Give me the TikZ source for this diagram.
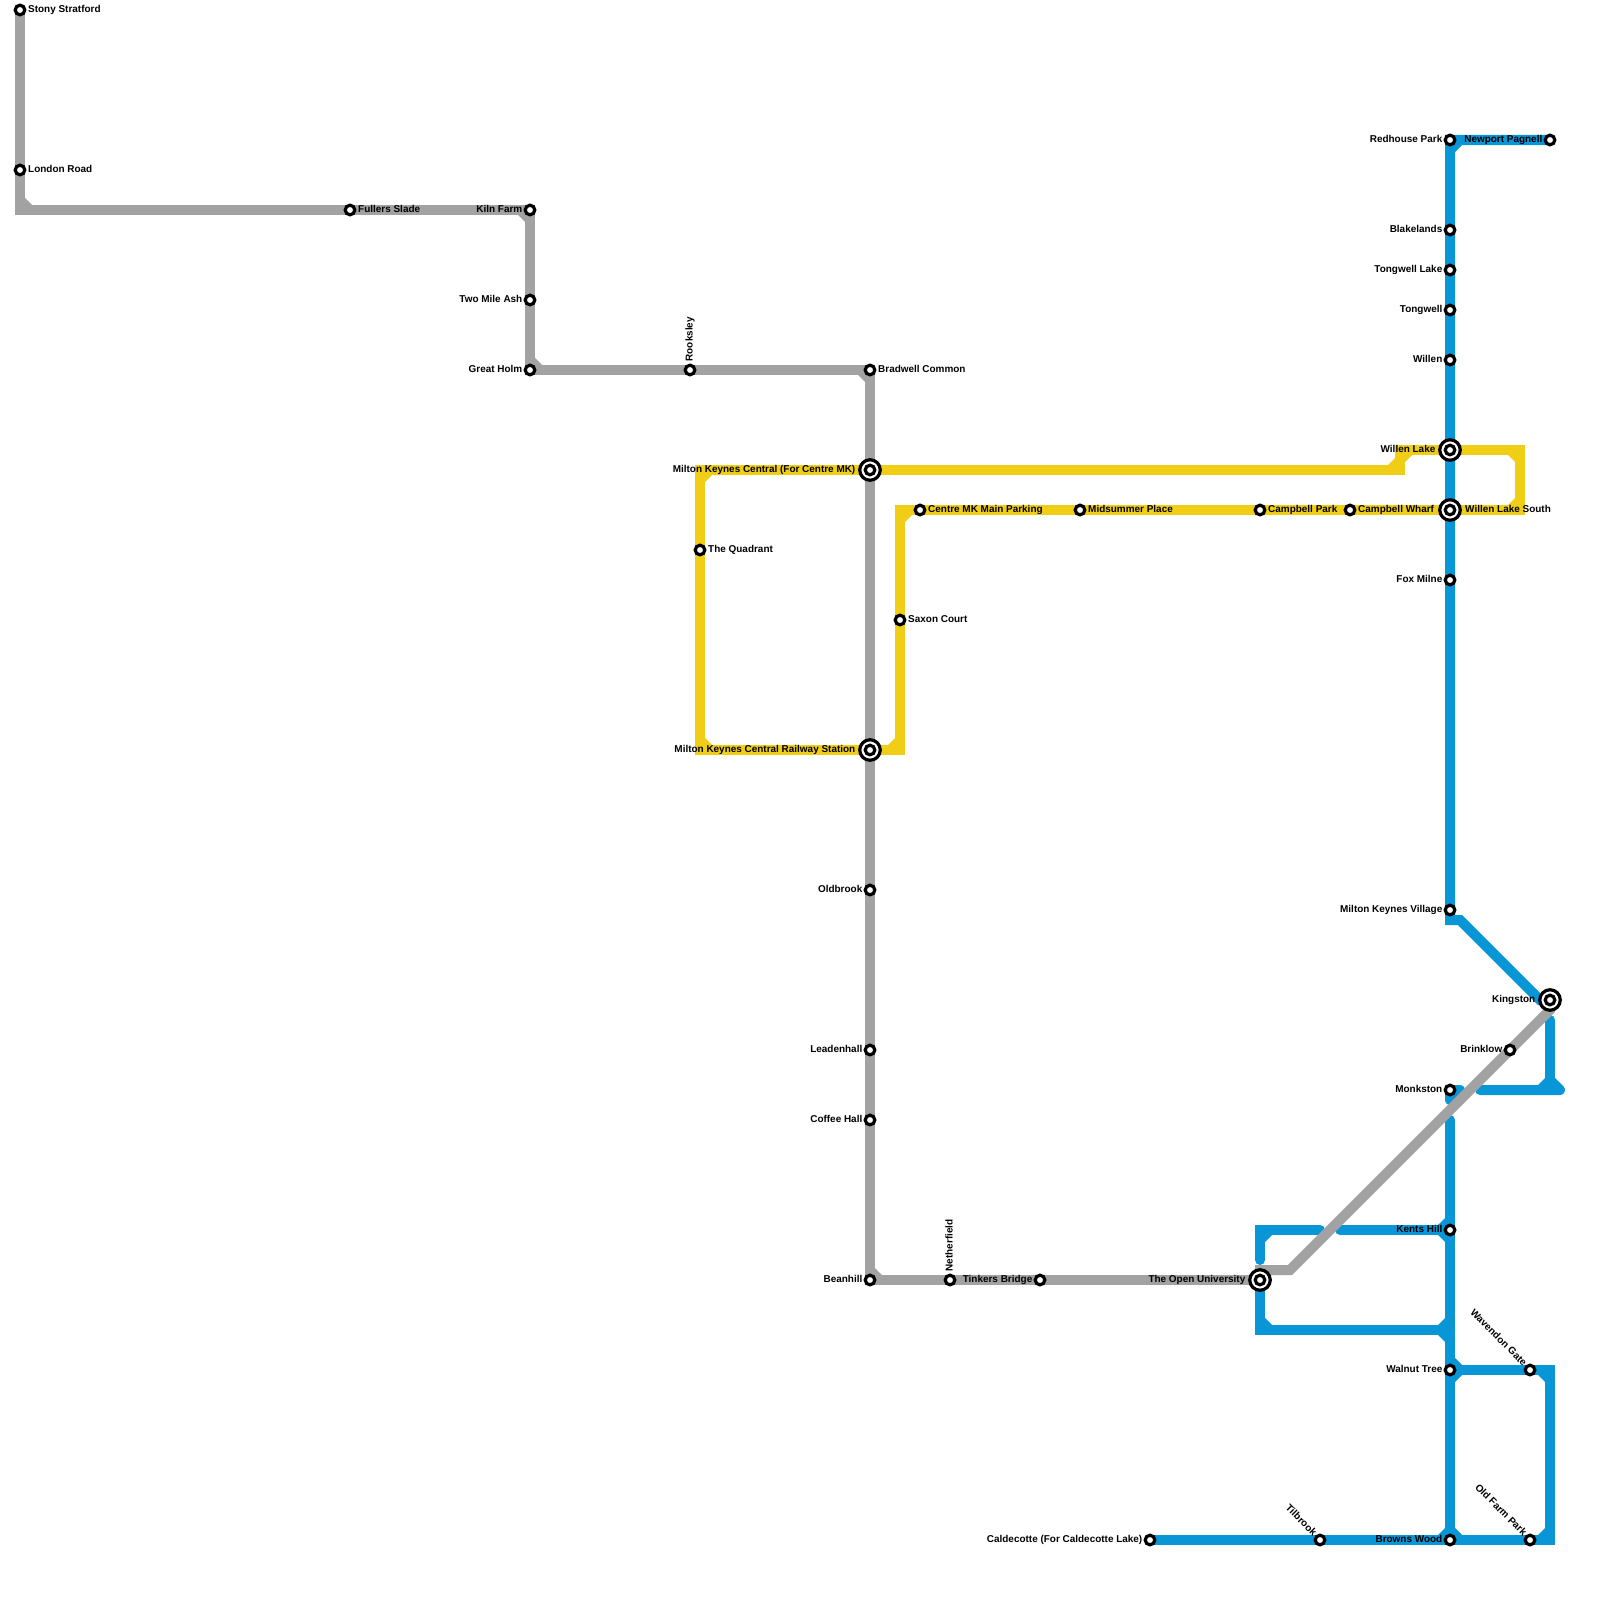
\documentclass[tikz,border=0pt]{standalone}
\usepackage{fontspec}
\setmainfont{Liberation Sans}
\usetikzlibrary{calc}

\definecolor{linegrey}{HTML}{A2A2A2}
\definecolor{lineyellow}{HTML}{F0CE15}
\definecolor{lineblue}{HTML}{0896D7}

\tikzset{
  route/.style={line width=.1cm, line cap=round, line join=miter},
  stop/.style={circle, draw=black, fill=white, line width=.032cm, minimum size=.096cm, inner sep=0pt, outer sep=0pt},
  hub/.style={circle, draw=black, fill=white, line width=.032cm, minimum size=.205cm, inner sep=0pt, outer sep=0pt},
  lbl/.style={font=\fontsize{2.83}{3}\selectfont\bfseries, text=black, inner sep=0pt, text height=.072cm, text depth=.02cm},
  lblr/.style={lbl, anchor=west},
  lbll/.style={lbl, anchor=east},
  lblup/.style={lbl, anchor=west, rotate=90},
  lbldiag/.style={lbl, anchor=east, rotate=-45}
}

% small filler on the inside of a bend
\newcommand{\notch}[4]{\fill[#1, shift={(#2)}, xscale=#3, yscale=#4] (5,5) -- (12,5) -- (5,12) -- cycle;}

\begin{document}
\begin{tikzpicture}[x=.01cm, y=-.01cm]
\useasboundingbox (0,0) rectangle (1600,1600);

% stations
\coordinate (stony) at (20,10);
\coordinate (london) at (20,170);
\coordinate (fullers) at (350,210);
\coordinate (kiln) at (530,210);
\coordinate (twomile) at (530,300);
\coordinate (greatholm) at (530,370);
\coordinate (rooksley) at (690,370);
\coordinate (bradwell) at (870,370);
\coordinate (central) at (870,470);
\coordinate (railway) at (870,750);
\coordinate (oldbrook) at (870,890);
\coordinate (leadenhall) at (870,1050);
\coordinate (coffee) at (870,1120);
\coordinate (beanhill) at (870,1280);
\coordinate (netherfield) at (950,1280);
\coordinate (tinkers) at (1040,1280);
\coordinate (openuni) at (1260,1280);
\coordinate (brinklow) at (1510,1050);
\coordinate (kingston) at (1550,1000);
\coordinate (quadrant) at (700,550);
\coordinate (saxon) at (900,620);
\coordinate (centremk) at (920,510);
\coordinate (midsummer) at (1080,510);
\coordinate (campbellpark) at (1260,510);
\coordinate (wharf) at (1350,510);
\coordinate (willenlake) at (1450,450);
\coordinate (willensouth) at (1450,510);
\coordinate (redhouse) at (1450,140);
\coordinate (newport) at (1550,140);
\coordinate (blakelands) at (1450,230);
\coordinate (tongwelllake) at (1450,270);
\coordinate (tongwell) at (1450,310);
\coordinate (willen) at (1450,360);
\coordinate (foxmilne) at (1450,580);
\coordinate (village) at (1450,910);
\coordinate (monkston) at (1450,1090);
\coordinate (kents) at (1450,1230);
\coordinate (walnut) at (1450,1370);
\coordinate (wavendon) at (1530,1370);
\coordinate (browns) at (1450,1540);
\coordinate (oldfarm) at (1530,1540);
\coordinate (tilbrook) at (1320,1540);
\coordinate (caldecotte) at (1150,1540);

% bends and loose ends
\coordinate (gA) at (20,210);
\coordinate (gB) at (530,370);
\coordinate (gC) at (870,1280);
\coordinate (gD) at (1260,1270);
\coordinate (gE) at (1290,1270);
\coordinate (gF) at (1550,1010);
\coordinate (yA) at (1400,470);
\coordinate (yB) at (1400,450);
\coordinate (yC) at (1520,450);
\coordinate (yD) at (1520,510);
\coordinate (yE) at (900,510);
\coordinate (yF) at (900,750);
\coordinate (yG) at (700,750);
\coordinate (yH) at (700,470);
\coordinate (bA) at (1450,920);
\coordinate (bB) at (1460,920);
\coordinate (bC) at (1540,1000);
\coordinate (bD) at (1550,1020);
\coordinate (bE) at (1550,1090);
\coordinate (bF) at (1480,1090);
\coordinate (bG) at (1560,1090);
\coordinate (bH) at (1550,1080);
\coordinate (bI) at (1460,1090);
\coordinate (bJ) at (1450,1100);
\coordinate (bK) at (1450,1120);
\coordinate (bL) at (1340,1230);
\coordinate (bM) at (1320,1230);
\coordinate (bN) at (1260,1230);
\coordinate (bO) at (1260,1260);
\coordinate (bP) at (1260,1330);
\coordinate (bQ) at (1450,1330);
\coordinate (bR) at (1550,1370);
\coordinate (bS) at (1550,1540);

% blue line
\draw[route, lineblue] (newport) -- (redhouse) -- (village) -- (bA) -- (bB) -- (bC) -- (kingston);
\draw[route, lineblue] (bD) -- (bE);
\draw[route, lineblue, line join=round] (bF) -- (bG) -- (bH);
\draw[route, lineblue, line join=round, fill=lineblue] (monkston) -- (bI) -- (bJ) -- cycle;
\draw[route, lineblue] (bK) -- (browns);
\draw[route, lineblue] (bL) -- (kents);
\draw[route, lineblue] (bM) -- (bN) -- (bO);
\draw[route, lineblue] (openuni) -- (bP) -- (bQ);
\draw[route, lineblue] (walnut) -- (bR) -- (bS) -- (caldecotte);

\notch{lineblue}{1450,140}{1}{1}
\notch{lineblue}{1550,1090}{-1}{-1}
\notch{lineblue}{1260,1230}{1}{1}
\notch{lineblue}{1450,1230}{-1}{-1}
\notch{lineblue}{1450,1230}{-1}{1}
\notch{lineblue}{1260,1330}{1}{-1}
\notch{lineblue}{1450,1330}{-1}{-1}
\notch{lineblue}{1450,1330}{-1}{1}
\notch{lineblue}{1450,1370}{1}{-1}
\notch{lineblue}{1450,1370}{1}{1}
\notch{lineblue}{1550,1370}{-1}{1}
\notch{lineblue}{1550,1540}{-1}{-1}
\notch{lineblue}{1450,1540}{-1}{-1}
\notch{lineblue}{1450,1540}{1}{-1}

% yellow line
\draw[route, lineyellow] (central) -- (yA) -- (yB) -- (yC) -- (yD) -- (yE) -- (yF) -- (yG) -- (yH) -- cycle;

\notch{lineyellow}{700,470}{1}{1}
\notch{lineyellow}{700,750}{1}{-1}
\notch{lineyellow}{900,510}{1}{1}
\notch{lineyellow}{900,750}{-1}{-1}
\notch{lineyellow}{1520,450}{-1}{1}
\notch{lineyellow}{1520,510}{-1}{-1}
\notch{lineyellow}{1400,470}{-1}{-1}
\notch{lineyellow}{1400,450}{1}{1}

% grey line
\draw[route, linegrey] (stony) -- (gA) -- (kiln) -- (gB) -- (bradwell) -- (gC) -- (openuni);
\draw[route, linegrey] (openuni) -- (gD) -- (gE) -- (gF) -- (kingston);

\notch{linegrey}{20,210}{1}{-1}
\notch{linegrey}{530,210}{-1}{1}
\notch{linegrey}{530,370}{1}{-1}
\notch{linegrey}{870,370}{-1}{1}
\notch{linegrey}{870,1280}{1}{-1}

% stops
\node[stop] (stonystop) at (stony) {};
\node[stop] (londonstop) at (london) {};
\node[stop] (fullersstop) at (fullers) {};
\node[stop] (kilnstop) at (kiln) {};
\node[stop] (twomilestop) at (twomile) {};
\node[stop] (greatholmstop) at (greatholm) {};
\node[stop] (rooksleystop) at (rooksley) {};
\node[stop] (bradwellstop) at (bradwell) {};
\node[stop] (oldbrookstop) at (oldbrook) {};
\node[stop] (leadenhallstop) at (leadenhall) {};
\node[stop] (coffeestop) at (coffee) {};
\node[stop] (beanhillstop) at (beanhill) {};
\node[stop] (netherfieldstop) at (netherfield) {};
\node[stop] (tinkersstop) at (tinkers) {};
\node[stop] (brinklowstop) at (brinklow) {};
\node[stop] (quadrantstop) at (quadrant) {};
\node[stop] (saxonstop) at (saxon) {};
\node[stop] (centremkstop) at (centremk) {};
\node[stop] (midsummerstop) at (midsummer) {};
\node[stop] (campbellparkstop) at (campbellpark) {};
\node[stop] (wharfstop) at (wharf) {};
\node[stop] (redhousestop) at (redhouse) {};
\node[stop] (newportstop) at (newport) {};
\node[stop] (blakelandsstop) at (blakelands) {};
\node[stop] (tongwelllakestop) at (tongwelllake) {};
\node[stop] (tongwellstop) at (tongwell) {};
\node[stop] (willenstop) at (willen) {};
\node[stop] (foxmilnestop) at (foxmilne) {};
\node[stop] (villagestop) at (village) {};
\node[stop] (monkstonstop) at (monkston) {};
\node[stop] (kentsstop) at (kents) {};
\node[stop] (walnutstop) at (walnut) {};
\node[stop] (wavendonstop) at (wavendon) {};
\node[stop] (brownsstop) at (browns) {};
\node[stop] (oldfarmstop) at (oldfarm) {};
\node[stop] (tilbrookstop) at (tilbrook) {};
\node[stop] (caldecottestop) at (caldecotte) {};

% interchanges
\node[hub] (centralhub) at (central) {};
\node[stop] (centralstop) at (central) {};
\node[hub] (railwayhub) at (railway) {};
\node[stop] (railwaystop) at (railway) {};
\node[hub] (openunihub) at (openuni) {};
\node[stop] (openunistop) at (openuni) {};
\node[hub] (kingstonhub) at (kingston) {};
\node[stop] (kingstonstop) at (kingston) {};
\node[hub] (willenlakehub) at (willenlake) {};
\node[stop] (willenlakestop) at (willenlake) {};
\node[hub] (willensouthhub) at (willensouth) {};
\node[stop] (willensouthstop) at (willensouth) {};

% labels
\node[lblr] (stonylabel) at (27.5,10) {Stony Stratford};
\node[lblr] (londonlabel) at (27.5,170) {London Road};
\node[lblr] (fullerslabel) at (357.5,210) {Fullers Slade};
\node[lbll] (kilnlabel) at (523,210) {Kiln Farm};
\node[lbll] (twomilelabel) at (523,300) {Two Mile Ash};
\node[lbll] (greatholmlabel) at (523,370) {Great Holm};
\node[lblup] (rooksleylabel) at (690,362) {Rooksley};
\node[lblr] (bradwelllabel) at (877.5,370) {Bradwell Common};
\node[lbll] (centrallabel) at (856,470) {Milton Keynes Central (For Centre MK)};
\node[lbll] (railwaylabel) at (856,750) {Milton Keynes Central Railway Station};
\node[lbll] (oldbrooklabel) at (863,890) {Oldbrook};
\node[lbll] (leadenhalllabel) at (863,1050) {Leadenhall};
\node[lbll] (coffeelabel) at (863,1120) {Coffee Hall};
\node[lbll] (beanhilllabel) at (863,1280) {Beanhill};
\node[lblup] (netherfieldlabel) at (950,1272) {Netherfield};
\node[lbll] (tinkerslabel) at (1033,1280) {Tinkers Bridge};
\node[lbll] (openunilabel) at (1246,1280) {The Open University};
\node[lbll] (brinklowlabel) at (1503,1050) {Brinklow};
\node[lbll] (kingstonlabel) at (1536,1000) {Kingston};
\node[lblr] (quadrantlabel) at (707.5,550) {The Quadrant};
\node[lblr] (saxonlabel) at (907.5,620) {Saxon Court};
\node[lblr] (centremklabel) at (927.5,510) {Centre MK Main Parking};
\node[lblr] (midsummerlabel) at (1087.5,510) {Midsummer Place};
\node[lblr] (campbellparklabel) at (1267.5,510) {Campbell Park};
\node[lblr] (wharflabel) at (1357.5,510) {Campbell Wharf};
\node[lbll] (willenlakelabel) at (1436,450) {Willen Lake};
\node[lblr] (willensouthlabel) at (1464.5,510) {Willen Lake South};
\node[lbll] (redhouselabel) at (1443,140) {Redhouse Park};
\node[lbll] (newportlabel) at (1543,140) {Newport Pagnell};
\node[lbll] (blakelandslabel) at (1443,230) {Blakelands};
\node[lbll] (tongwelllakelabel) at (1443,270) {Tongwell Lake};
\node[lbll] (tongwelllabel) at (1443,310) {Tongwell};
\node[lbll] (willenlabel) at (1443,360) {Willen};
\node[lbll] (foxmilnelabel) at (1443,580) {Fox Milne};
\node[lbll] (villagelabel) at (1443,910) {Milton Keynes Village};
\node[lbll] (monkstonlabel) at (1443,1090) {Monkston};
\node[lbll] (kentslabel) at (1443,1230) {Kents Hill};
\node[lbll] (walnutlabel) at (1443,1370) {Walnut Tree};
\node[lbll] (brownslabel) at (1443,1540) {Browns Wood};
\node[lbll] (caldecottelabel) at (1143,1540) {Caldecotte (For Caldecotte Lake)};
\node[lbldiag] (wavendonlabel) at (1525,1365) {Wavendon Gate};
\node[lbldiag] (oldfarmlabel) at (1525,1535) {Old Farm Park};
\node[lbldiag] (tilbrooklabel) at (1315,1535) {Tilbrook};

\end{tikzpicture}
\end{document}
